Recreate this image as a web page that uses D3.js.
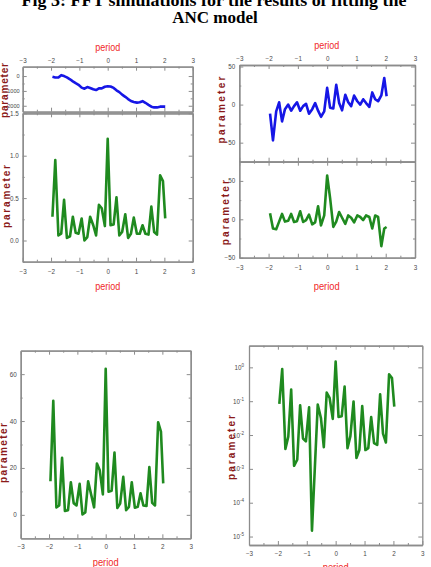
<!DOCTYPE html>
<html><head><meta charset="utf-8">
<script src="https://cdn.jsdelivr.net/npm/d3@7"></script>
<style>body{margin:0;background:#fff;} svg{display:block}</style>
</head><body><svg id="c" width="431" height="567"></svg>
<script>
// ---- data ----
const freq = [-1.95,-1.85,-1.74,-1.64,-1.54,-1.44,-1.33,-1.23,-1.13,-1.03,-0.92,-0.82,-0.72,-0.62,-0.51,-0.41,-0.31,-0.21,-0.10,0,
              0.10,0.21,0.31,0.41,0.51,0.62,0.72,0.82,0.92,1.03,1.13,1.23,1.33,1.44,1.54,1.64,1.74,1.85,1.95,2.03];
const cumulative = [-45,-100,-100,60,0,-90,-220,-360,-480,-590,-780,-850,-740,-800,-890,-940,-830,-830,-720,-690,
                    -700,-800,-960,-1080,-1250,-1400,-1550,-1680,-1750,-1790,-1760,-1690,-1800,-1940,-2060,-2110,-2110,-2060,-2050,-2060];
const powerNorm = [0.28,0.95,0.06,0.08,0.48,0.03,0.05,0.28,0.09,0.08,0.26,0.00,0.04,0.28,0.18,0.06,0.42,0.38,0.17,1.20,
                   0.18,0.19,0.51,0.06,0.10,0.31,0.03,0.08,0.27,0.08,0.08,0.18,0.08,0.07,0.40,0.10,0.07,0.77,0.70,0.26];
const realPart = [-12,-47,-9,3,-22,-6,0,-8,-2,3,-8,-2,1,-12,-6,2,-8,-16,-9,22,
                  -4,-5,26,2,-7.5,13,3,-2,11.8,4.4,0,7,2,-3,16,7,4.4,12,35,11];
const imagPart = [8,-12,-13,-3,7,-3,-2,7,-3.5,-2.5,10.5,-3.5,-1,6,-6.5,-4,17,-8,5,57,
                  28,-10,-3,9.5,2,-6,5,2,-4,5,3,-1,5,3,-12,5,3,-35,-12,-10];
const power = [14.3,48.6,3.2,4.0,24.3,1.7,2.0,13.9,5.0,4.0,13.2,0.2,1.0,14.3,8.5,3.2,21.9,19.0,8.7,62.3,
               9.9,10.3,26.6,2.9,4.8,16.2,2.0,3.4,13.9,3.0,3.4,9.2,4.0,3.8,20.4,5.1,4.0,39.5,35.5,13.4];
const powerLog = [0.083,0.89,0.0039,0.0089,0.22,0.00123,0.00186,0.076,0.0079,0.0065,0.066,0.000015,0.0011,0.079,0.032,0.0044,0.18,0.126,0.03,1.48,
                  0.034,0.036,0.27,0.0041,0.0093,0.098,0.0021,0.0036,0.072,0.0036,0.0041,0.034,0.0058,0.0051,0.16,0.011,0.006,0.62,0.48,0.069];
const xTicks = [-3,-2,-1,0,1,2,3];
const xMinor = [-2.5,-1.5,-0.5,0.5,1.5,2.5];
const titleLines = ["Fig 3: FFT simulations for the results of fitting the", "ANC model"];
const xLabel = "period", yLabel = "parameter";

const BLUE = "#1616e6", GREEN = "#1f8a1f", FRAME = "#8c8c8c", TXT = "#4a4a4a";
const TICKFONT = "'Liberation Sans Narrow','Arial Narrow','Liberation Sans',Arial,sans-serif";
const svg = d3.select("#c");

// title
svg.append("text").attr("x",214).attr("y",5.5).attr("text-anchor","middle")
  .attr("font-family","'Liberation Serif','Times New Roman',serif").attr("font-weight","bold")
  .attr("font-size",17).attr("textLength",385).attr("lengthAdjust","spacingAndGlyphs").text(titleLines[0]);
svg.append("text").attr("x",215).attr("y",22.7).attr("text-anchor","middle")
  .attr("font-family","'Liberation Serif','Times New Roman',serif").attr("font-weight","bold")
  .attr("font-size",17).text(titleLines[1]);

function styleAxis(g){
  g.select(".domain").attr("stroke",FRAME).attr("stroke-width",1.3);
  g.selectAll(".tick line").attr("stroke",FRAME).attr("stroke-width",1);
  g.selectAll(".tick text").attr("fill",TXT).attr("font-size",6.3).attr("font-family",TICKFONT);
}

// generic subplot
function subplot(o){
  const x = d3.scaleLinear().domain([-3,3]).range([o.x0,o.x1]);
  const y = (o.log ? d3.scaleLog() : d3.scaleLinear()).domain(o.yd).range([o.y1,o.y0]);
  const g = svg.append("g");
  // bottom
  const gb = g.append("g").attr("transform",`translate(0,${o.y1})`)
    .call(d3.axisBottom(x).tickValues(xTicks).tickSize(-4).tickSizeOuter(0).tickPadding(o.bPad||7.5)
      .tickFormat(o.bottomLabels? d3.format("d") : ""));
  styleAxis(gb);
  g.append("g").attr("transform",`translate(0,${o.y1})`)
    .call(d3.axisBottom(x).tickValues(xMinor).tickSize(-2).tickSizeOuter(0).tickFormat("")).call(styleAxis);
  // top
  const gt = g.append("g").attr("transform",`translate(0,${o.y0})`)
    .call(d3.axisTop(x).tickValues(xTicks).tickSize(-4).tickSizeOuter(0).tickPadding(3.8)
      .tickFormat(o.topLabels? d3.format("d") : ""));
  styleAxis(gt);
  g.append("g").attr("transform",`translate(0,${o.y0})`)
    .call(d3.axisTop(x).tickValues(xMinor).tickSize(-2).tickSizeOuter(0).tickFormat("")).call(styleAxis);
  // left
  const gl = g.append("g").attr("transform",`translate(${o.x0},0)`)
    .call(d3.axisLeft(y).tickValues(o.yTicks).tickSize(-4).tickSizeOuter(0).tickPadding(o.lPad||4)
      .tickFormat(o.log ? (()=>"10") : o.fmt));
  styleAxis(gl);
  if (o.yFont) gl.selectAll(".tick text").attr("font-size",o.yFont);
  if (o.log) {
    gl.selectAll(".tick text").each(function(d){
      d3.select(this).append("tspan").attr("dy",-2.8).attr("font-size",4.5).text(Math.round(Math.log10(d)));
    });
  }
  // right
  g.append("g").attr("transform",`translate(${o.x1},0)`)
    .call(d3.axisRight(y).tickValues(o.yTicks).tickSize(-4).tickSizeOuter(0).tickFormat("")).call(styleAxis);
  if (o.yMinor) {
    g.append("g").attr("transform",`translate(${o.x0},0)`)
      .call(d3.axisLeft(y).tickValues(o.yMinor).tickSize(-2).tickSizeOuter(0).tickFormat("")).call(styleAxis);
    g.append("g").attr("transform",`translate(${o.x1},0)`)
      .call(d3.axisRight(y).tickValues(o.yMinor).tickSize(-2).tickSizeOuter(0).tickFormat("")).call(styleAxis);
  }
  // line
  const line = d3.line().x((d,i)=>x(freq[i])).y(d=>y(d));
  g.append("path").datum(o.values).attr("d",line).attr("fill","none")
    .attr("stroke",o.color).attr("stroke-width",2.6).attr("stroke-linejoin","round");
  return {x,y};
}

function periodLabel(cx, cy, len){
  svg.append("text").attr("x",cx).attr("y",cy).attr("text-anchor","middle")
    .attr("font-family","'Liberation Sans',Arial,sans-serif").attr("font-size",10.5)
    .attr("fill","#f02828").attr("textLength",len).attr("lengthAdjust","spacingAndGlyphs").text(xLabel);
}
function paramLabel(cx, cy, len){
  svg.append("text").attr("transform",`translate(${cx+3.2},${cy}) rotate(-90)`).attr("text-anchor","middle")
    .attr("font-family","'Liberation Sans',Arial,sans-serif").attr("font-size",10).attr("font-weight","bold")
    .attr("fill","#8b1a1a").attr("textLength",len).attr("lengthAdjust","spacing").text(yLabel);
}

// top-left upper
subplot({x0:22.7,x1:192.7,y0:66.7,y1:111.7,yd:[-2400,630],yTicks:[0,-1000,-2000],yMinor:[-500,-1500],
  fmt:d3.format("d"),values:cumulative,color:BLUE,topLabels:true,yFont:5.6,lPad:3});
// top-left lower
subplot({x0:22.7,x1:192.7,y0:113.3,y1:261.7,yd:[-0.25,1.5],yTicks:[0,0.5,1.0,1.5],yMinor:[-0.25,0.25,0.75,1.25],
  fmt:d3.format(".1f"),values:powerNorm,color:GREEN,bottomLabels:true});
periodLabel(107.7,50.5,25);
periodLabel(107.7,289.5,25);
paramLabel(4.5,90.5,55);
paramLabel(6.5,196.5,63);

// top-right upper
subplot({x0:239.3,x1:415,y0:65,y1:161.7,yd:[-75,52],yTicks:[50,0,-50],yMinor:[25,-25],
  fmt:d3.format("d"),values:realPart,color:BLUE,topLabels:true});
// top-right lower
subplot({x0:239.3,x1:415,y0:161.7,y1:257.7,yd:[-50,75],yTicks:[50,0,-50],yMinor:[25,-25],
  fmt:d3.format("d"),values:imagPart,color:GREEN,bottomLabels:true,bPad:7.8});
periodLabel(326.7,48.5,25);
periodLabel(326.7,290,26);
paramLabel(221.5,110,67);
paramLabel(226,212.7,65);

// bottom-left
subplot({x0:20.7,x1:190.7,y0:350.7,y1:538.3,yd:[-10,70],yTicks:[0,20,40,60],yMinor:[10,30,50],
  fmt:d3.format("d"),values:power,color:GREEN,bottomLabels:true,bPad:6.5});
periodLabel(105.7,566,26);
paramLabel(3.5,453,60);

// bottom-right (log)
subplot({x0:249,x1:422.3,y0:345.7,y1:545,yd:[Math.pow(10,-5.25),Math.pow(10,0.64)],
  yTicks:[1,0.1,0.01,0.001,0.0001,0.00001],log:true,lPad:5,
  values:powerLog,color:GREEN,bottomLabels:true,bPad:6.5});
periodLabel(335.7,571,26);
paramLabel(231.5,447.5,65);
</script></body></html>
